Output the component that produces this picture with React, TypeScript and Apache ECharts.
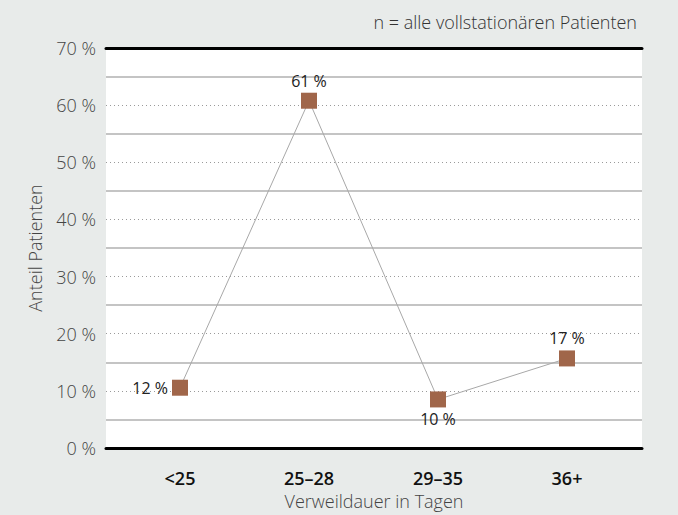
import React, { useEffect, useRef } from "react";
import * as echarts from "echarts";

const categories = ["<25", "25–28", "29–35", "36+"];
const shares = [12, 61, 10, 17];
const labelPositions = ["left", "top", "bottom", "top"];
const yTicks = { min: 0, max: 70, interval: 10 };
const noteText = "n = alle vollstationären Patienten";
const xTitle = "Verweildauer in Tagen";
const yTitle = "Anteil Patienten";

const FONT = "'Open Sans', 'Noto Sans', sans-serif";

export default function App() {
  const ref = useRef<HTMLDivElement>(null);
  useEffect(() => {
    if (!ref.current) return;
    const chart = echarts.init(ref.current, undefined, { renderer: "svg" });
    chart.setOption({
      animation: false,
      backgroundColor: "#e8ebea",
      textStyle: { fontFamily: FONT },
      title: {
        text: noteText,
        right: 36,
        top: 8,
        textStyle: { fontFamily: FONT, fontSize: 18, fontWeight: 300, color: "#333" },
      },
      grid: [
        { left: 106, right: 36, top: 48, bottom: 57, show: true, backgroundColor: "#ffffff", borderWidth: 0 },
        { left: 115.5, right: 46.5, top: 48, bottom: 57 },
      ],
      xAxis: [
        {
          gridIndex: 0,
          type: "category",
          data: categories,
          position: "bottom",
          axisLine: { show: true, lineStyle: { color: "#000", width: 3 } },
          axisTick: { show: false },
          axisLabel: { show: false },
          splitLine: { show: false },
          name: xTitle,
          nameLocation: "middle",
          nameGap: 44,
          nameTextStyle: { fontFamily: FONT, fontSize: 18, fontWeight: 300, color: "#444" },
        },
        {
          gridIndex: 0,
          type: "category",
          data: categories,
          position: "top",
          axisLine: { show: true, lineStyle: { color: "#000", width: 3 } },
          axisTick: { show: false },
          axisLabel: { show: false },
          splitLine: { show: false },
        },
        {
          gridIndex: 1,
          type: "category",
          data: categories,
          position: "bottom",
          axisLine: { show: false },
          axisTick: { show: false },
          axisLabel: { fontFamily: FONT, fontSize: 18, fontWeight: 600, color: "#111", margin: 11 },
          splitLine: { show: false },
        },
      ],
      yAxis: [
        {
          gridIndex: 0,
          type: "value",
          min: yTicks.min,
          max: yTicks.max,
          interval: yTicks.interval,
          axisLine: { show: false },
          axisTick: { show: false },
          axisLabel: { formatter: "{value} %", fontFamily: FONT, fontSize: 18, fontWeight: 300, color: "#444", margin: 10 },
          splitLine: { show: true, lineStyle: { color: "#9a9a9a", type: [1, 3], width: 1 } },
          minorTick: { show: false, splitNumber: 2 },
          minorSplitLine: { show: true, lineStyle: { color: "#c4c4c4", width: 2 } },
          name: yTitle,
          nameLocation: "middle",
          nameRotate: 90,
          nameGap: 62,
          nameTextStyle: { fontFamily: FONT, fontSize: 18, fontWeight: 300, color: "#444" },
        },
        {
          gridIndex: 1,
          type: "value",
          min: yTicks.min,
          max: yTicks.max,
          interval: yTicks.interval,
          show: false,
          splitLine: { show: false },
        },
      ],
      series: [
        {
          type: "line",
          xAxisIndex: 2,
          yAxisIndex: 1,
          data: shares.map((v, i) => ({
            value: v,
            label: { position: labelPositions[i] },
          })),
          symbol: "rect",
          symbolSize: 16,
          itemStyle: { color: "#a0664a" },
          lineStyle: { color: "#a8a8a8", width: 1 },
          label: {
            show: true,
            formatter: "{c} %",
            fontFamily: FONT,
            fontSize: 16,
            color: "#222",
            distance: 4,
          },
          z: 5,
        },
      ],
    });
    return () => chart.dispose();
  }, []);
  return (
    <div
      ref={ref}
      style={{ position: "absolute", left: 0, top: 0, width: 678, height: 515 }}
    />
  );
}
